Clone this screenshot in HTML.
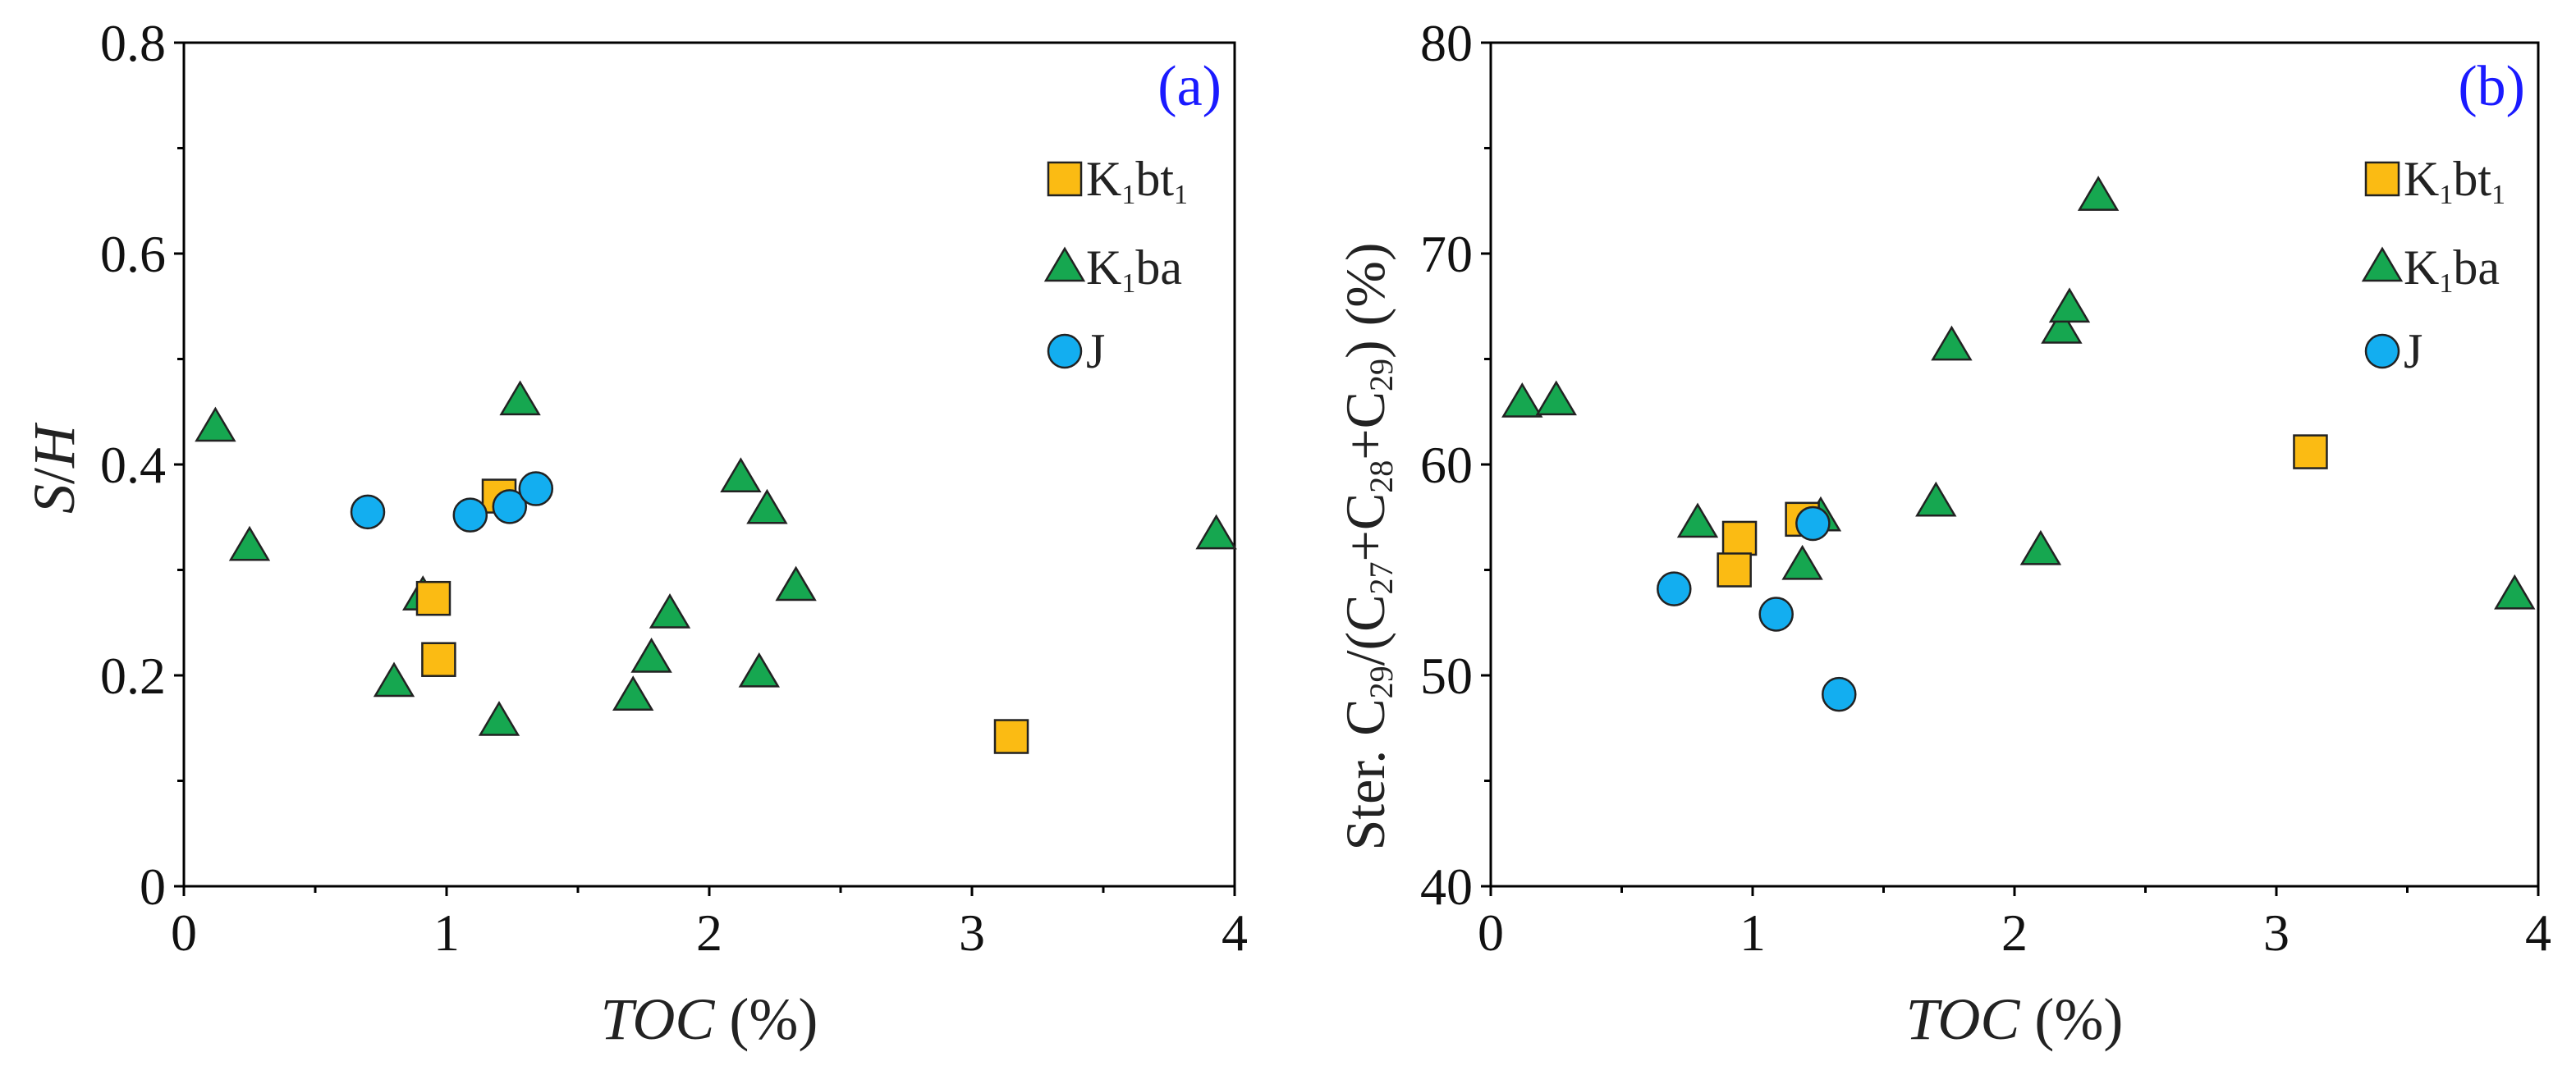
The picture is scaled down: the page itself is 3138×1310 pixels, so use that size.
<!DOCTYPE html>
<html><head><meta charset="utf-8"><style>
html,body{margin:0;padding:0;background:#fff;}
svg{display:block;font-family:"Liberation Serif",serif;}
</style></head><body>
<svg id="chart" width="3138" height="1310" viewBox="0 0 3138 1310" xmlns="http://www.w3.org/2000/svg">
  <g id="pa"></g>
  <g id="pb"></g>
</svg>
<script>
const NS="http://www.w3.org/2000/svg";
// Panel (a) data: S/H vs TOC
const aSqX=[1.2,0.95,0.97,3.15];
const aSqY=[0.37,0.273,0.215,0.142];
const aTrX=[0.12,0.25,0.8,0.91,1.2,1.28,1.71,1.78,1.85,2.12,2.19,2.22,2.33,3.93];
const aTrY=[0.435,0.322,0.193,0.275,0.156,0.46,0.18,0.216,0.258,0.387,0.202,0.357,0.284,0.333];
const aCiX=[0.7,1.09,1.24,1.34];
const aCiY=[0.355,0.352,0.36,0.377];
// Panel (b) data: Ster. C29 ratio vs TOC
const bSqX=[1.19,0.95,0.93,3.13];
const bSqY=[57.4,56.5,55.0,60.6];
const bTrX=[0.12,0.25,0.79,1.19,1.26,1.7,1.76,2.1,2.18,2.21,2.32,3.91];
const bTrY=[62.9,63.0,57.2,55.2,57.5,58.2,65.6,55.9,66.4,67.4,72.7,53.8];
const bCiX=[0.7,1.09,1.23,1.33];
const bCiY=[54.1,52.9,57.2,49.1];
const xTicks=["0","1","2","3","4"];
const aYTicks=["0","0.2","0.4","0.6","0.8"];
const bYTicks=["40","50","60","70","80"];

function el(tag,attrs,parent){const e=document.createElementNS(NS,tag);for(const k in attrs)e.setAttribute(k,attrs[k]);parent.appendChild(e);return e;}

function panel(g,o){
  const sx=v=>o.x0+(v-o.xmin)/(o.xmax-o.xmin)*(o.x1-o.x0);
  const sy=v=>o.y0-(v-o.ymin)/(o.ymax-o.ymin)*(o.y0-o.y1);
  const frame=el('rect',{x:o.x0,y:o.y1,width:o.x1-o.x0,height:o.y0-o.y1,fill:'none',stroke:'#000','stroke-width':3},g);
  
  
  for(let v=o.xmin;v<=o.xmax+1e-9;v+=0.5){
    const major=Math.abs(v-Math.round(v))<1e-9;
    const t=el('line',{x1:sx(v),x2:sx(v),y1:o.y0,y2:o.y0+(major?12:8),stroke:'#000','stroke-width':3},g);
    
    
  }
  xTicks.forEach(s=>{
    const t=el('text',{x:sx(+s),y:o.y0+78,'font-size':64,'text-anchor':'middle',fill:'#111'},g);
    t.textContent=s;
    
    
  });
  const ystep=(o.ymax-o.ymin)/8;
  for(let i=0;i<=8;i++){
    const v=o.ymin+i*ystep;
    const t=el('line',{x1:o.x0-(i%2==0?12:8),x2:o.x0,y1:sy(v),y2:sy(v),stroke:'#000','stroke-width':3},g);
    
    
  }
  o.yt.forEach(s=>{
    const t=el('text',{x:o.x0-22,y:sy(+s)+22,'font-size':64,'text-anchor':'end',fill:'#111'},g);
    t.textContent=s;
    
    
  });
  const xt=el('text',{x:(o.x0+o.x1)/2,y:1266,'font-size':72,'text-anchor':'middle',fill:'#222'},g);
  xt.innerHTML='<tspan font-style="italic">TOC</tspan> (%)';
  
  
  const yt=el('text',{x:0,y:0,'font-size':o.ytSize,'text-anchor':'middle',fill:'#222',transform:`translate(${o.ytx},${o.yty}) rotate(-90)`},g);
  yt.innerHTML=o.ytitle;
  
  
  const pl=el('text',{x:o.x1-16,y:o.y1+76,'font-size':70,'text-anchor':'end',fill:'#1a1aff'},g);
  pl.textContent=o.label;
  
  
  function sq(cx,cy,p){return el('rect',{x:cx-20,y:cy-20,width:40,height:40,fill:'#fbbb13',stroke:'#222','stroke-width':2.5},p);}
  function tr(cx,cy,p){return el('polygon',{points:`${cx},${cy-23} ${cx-23},${cy+16} ${cx+23},${cy+16}`,fill:'#16a750',stroke:'#222','stroke-width':2.5},p);}
  function ci(cx,cy,p){return el('ellipse',{cx:cx,cy:cy,rx:20,ry:20,fill:'#13aef0',stroke:'#222','stroke-width':2.5},p);}
  o.tx.forEach((v,i)=>{const m=tr(sx(v),sy(o.ty[i]),g);
    
    });
  o.sqx.forEach((v,i)=>{const m=sq(sx(v),sy(o.sqy[i]),g);
    
    });
  o.cx.forEach((v,i)=>{const m=ci(sx(v),sy(o.cy[i]),g);
    
    });
  const lx=o.lx;
  const lg=el('g',{},g);
  
  
  const e1=sq(lx,218,lg);
  
  
  const e2=tr(lx,326,lg);
  
  
  const e3=ci(lx,428,lg);
  
  
  const t1=el('text',{x:lx+26,y:238,'font-size':60,fill:'#222'},lg);
  t1.innerHTML='K<tspan font-size="34" dy="10">1</tspan><tspan dy="-10">bt</tspan><tspan font-size="34" dy="10">1</tspan>';
  
  
  const t2=el('text',{x:lx+26,y:346,'font-size':60,fill:'#222'},lg);
  t2.innerHTML='K<tspan font-size="34" dy="10">1</tspan><tspan dy="-10">ba</tspan>';
  
  
  const t3=el('text',{x:lx+26,y:448,'font-size':60,fill:'#222'},lg);
  t3.textContent='J';
  
  
}
panel(document.getElementById('pa'),{x0:224,x1:1504,y0:1080,y1:52,xmin:0,xmax:4,ymin:0,ymax:0.8,yt:aYTicks,
  ytitle:'<tspan font-style="italic">S</tspan>/<tspan font-style="italic">H</tspan>',ytSize:72,ytx:90,yty:572,label:'(a)',
  sqx:aSqX,sqy:aSqY,tx:aTrX,ty:aTrY,cx:aCiX,cy:aCiY,lx:1297});
panel(document.getElementById('pb'),{x0:1816,x1:3092,y0:1080,y1:52,xmin:0,xmax:4,ymin:40,ymax:80,yt:bYTicks,
  ytitle:'Ster. C<tspan font-size="40" dy="10">29</tspan><tspan dy="-10">/(C</tspan><tspan font-size="40" dy="10">27</tspan><tspan dy="-10">+C</tspan><tspan font-size="40" dy="10">28</tspan><tspan dy="-10">+C</tspan><tspan font-size="40" dy="10">29</tspan><tspan dy="-10">) (%)</tspan>',ytSize:68,ytx:1686,yty:666,label:'(b)',
  sqx:bSqX,sqy:bSqY,tx:bTrX,ty:bTrY,cx:bCiX,cy:bCiY,lx:2902});
</script>
</body></html>
